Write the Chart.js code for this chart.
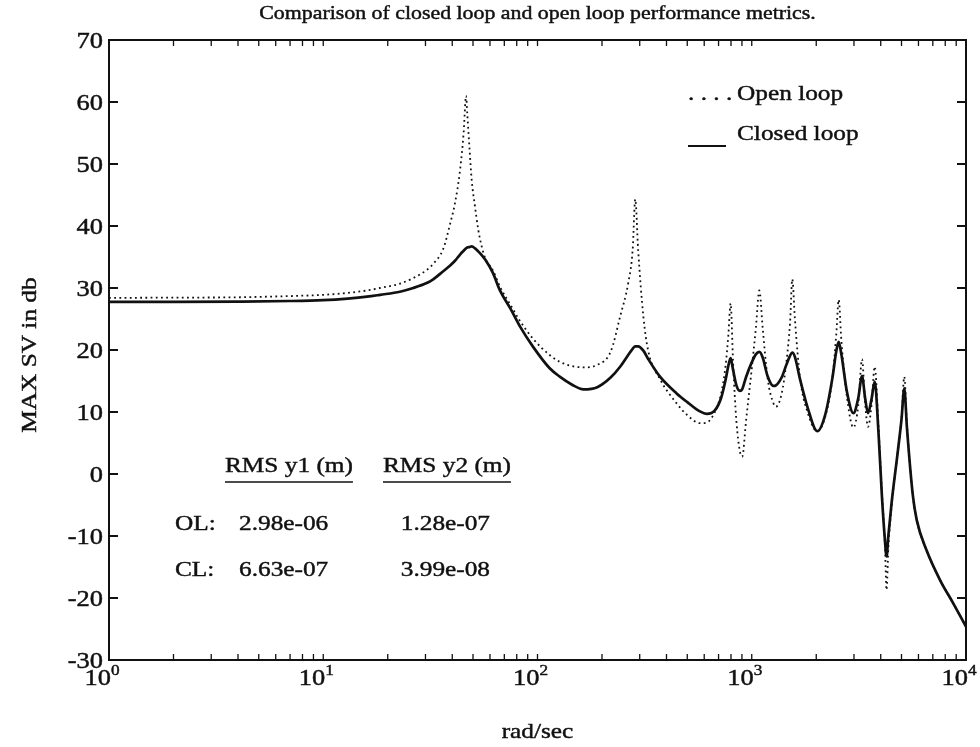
<!DOCTYPE html>
<html lang="en">
<head>
<meta charset="UTF-8">
<title>Closed loop vs open loop</title>
<script src="https://cdn.jsdelivr.net/npm/chart.js@4"></script>
<style>
  body { margin: 0; background: #fff; }
</style>
</head>
<body>
<canvas id="svChart" width="980" height="747"></canvas>
<script>
// frequency grid (rad/sec) and max singular value (dB) of each loop
const freq = [1, 2, 4, 7, 10, 13, 16, 18.4, 22.8, 26.3, 30.4, 32.6, 36.3, 39, 41.2, 43.5, 45.2, 46.4, 47, 48.1,
  49.3, 51.1, 52.9, 54.9, 57, 62, 66.6, 75, 82.8, 95.4,
  114, 127, 145, 164, 190, 220, 243, 265, 278, 286, 295, 312, 328, 373, 446, 500, 573, 616, 674, 720,
  755, 778, 797, 818, 848, 881, 903, 940, 1000, 1045, 1085, 1125, 1185, 1262, 1297, 1380, 1450, 1510, 1546, 1590,
  1680, 1820, 2023, 2200, 2380, 2480, 2546, 2620, 2780, 2981, 3140, 3272, 3380, 3490, 3620, 3749, 3900, 4050, 4180, 4258,
  4340, 4500, 4800, 5000, 5152, 5300, 5650, 5886, 6545, 7566, 8733, 10000];
const openLoop = [28.4, 28.45, 28.5, 28.7, 28.9, 29.2, 29.6, 30.0, 30.7, 31.6, 32.9, 33.9, 36.3, 40.2, 43.7, 49.0, 55, 61, 58.2, 52.8,
  47.4, 43.1, 39.4, 36.7, 34.8, 32.8, 30.3, 27.2, 24.7, 21.8,
  19.2, 18.1, 17.4, 17.2, 17.6, 19.8, 25.4, 30.75, 36.1, 44.3, 36.1, 25.4, 20.0, 15.3, 11.4, 9.5, 8.2, 8.3, 10.05, 13.0,
  17.5, 22.5, 27.5, 18.0, 8.5, 3.6, 2.8, 8.5, 17.0, 23.5, 29.6, 23.5, 15.5, 11.4, 10.85, 13.0, 18.0, 24.5, 31.4, 25.0,
  15.5, 10.0, 6.9, 9.2, 15.5, 22.5, 28.1, 21.5, 12.5, 7.5, 11.0, 18.5, 11.5, 7.6, 11.0, 17.3, 8.0, -3.0, -11.0, -18.7,
  -12.0, -5.0, 3.5, 9.0, 15.7, 8.0, -3.5, -7.4, -12.3, -17.1, -20.9, -24.6];
const closedLoop = [27.75, 27.75, 27.8, 27.9, 28.05, 28.3, 28.6, 28.9, 29.4, 30.0, 30.8, 31.4, 32.7, 33.6, 34.4, 35.4, 36.0, 36.4, 36.55, 36.6,
  36.7, 36.4, 35.9, 35.3, 34.6, 32.4, 29.7, 26.6, 23.8, 20.5,
  17.05, 15.7, 14.4, 13.65, 14.0, 15.6, 17.3, 19.2, 20.2, 20.6, 20.6, 19.9, 18.6, 15.7, 13.0, 11.6, 10.1, 9.7, 10.3, 12.3,
  15.2, 17.5, 18.7, 16.8, 14.3, 13.4, 13.7, 15.6, 18.0, 19.3, 19.7, 18.8, 15.8, 14.2, 14.3, 15.6, 17.6, 19.1, 19.6, 18.9,
  15.3, 10.8, 6.9, 9.5, 15.5, 19.8, 21.3, 19.3, 13.3, 9.8, 12.2, 15.8, 12.3, 9.8, 12.0, 14.9, 7.0, -3.5, -10.5, -13.3,
  -10.0, -4.5, 3.5, 8.8, 13.8, 7.5, -3.5, -7.4, -12.3, -17.1, -20.9, -24.6];

const yTicks = [70, 60, 50, 40, 30, 20, 10, 0, -10, -20, -30];
const xDecades = [1, 10, 100, 1000, 10000];

const rmsHeaders = ['RMS y1 (m)', 'RMS y2 (m)'];
const rmsRows = ['OL:', 'CL:'];
const rmsY1 = ['2.98e-06', '6.63e-07'];
const rmsY2 = ['1.28e-07', '3.99e-08'];

const ink = '#111';
const serif = '"Liberation Serif", "Times New Roman", serif';
const stretch = 1.15; // the printed face runs wider than Times

function txt(ctx, s, x, y, size, align) {
  ctx.save();
  ctx.font = size + 'px ' + serif;
  ctx.fillStyle = ink;
  ctx.strokeStyle = ink;
  ctx.lineWidth = 0.45;
  ctx.textBaseline = 'alphabetic';
  const w = ctx.measureText(s).width * stretch;
  let left = x;
  if (align === 'center') left = x - w / 2;
  if (align === 'right') left = x - w;
  ctx.translate(left, y);
  ctx.scale(stretch, 1);
  ctx.textAlign = 'left';
  ctx.fillText(s, 0, 0);
  ctx.strokeText(s, 0, 0);
  ctx.restore();
  return w;
}

function textWidth(ctx, s, size) {
  ctx.save();
  ctx.font = size + 'px ' + serif;
  const w = ctx.measureText(s).width * stretch;
  ctx.restore();
  return w;
}

// frame, inward ticks and all the lettering
const decorations = {
  id: 'decorations',
  afterDraw(chart) {
    const ctx = chart.ctx;
    const a = chart.chartArea;
    const xs = chart.scales.x, ys = chart.scales.y;

    ctx.save();
    ctx.strokeStyle = ink;
    ctx.lineWidth = 2;
    ctx.strokeRect(a.left, a.top, a.right - a.left, a.bottom - a.top);

    // minor ticks along top and bottom
    ctx.lineWidth = 1.3;
    ctx.beginPath();
    for (let d = 0; d < xDecades.length - 1; d++) {
      for (let m = 2; m <= 10; m++) {
        const px = xs.getPixelForValue(m * xDecades[d]);
        ctx.moveTo(px, a.bottom); ctx.lineTo(px, a.bottom - 6);
        ctx.moveTo(px, a.top); ctx.lineTo(px, a.top + 6);
      }
    }
    ctx.stroke();

    // dB ticks on both sides
    ctx.lineWidth = 1.8;
    ctx.beginPath();
    yTicks.forEach(v => {
      const py = ys.getPixelForValue(v);
      ctx.moveTo(a.left, py); ctx.lineTo(a.left + 9, py);
      ctx.moveTo(a.right, py); ctx.lineTo(a.right - 9, py);
    });
    ctx.stroke();
    ctx.restore();

    yTicks.forEach(v => {
      txt(ctx, String(v), a.left - 6, ys.getPixelForValue(v) + 8, 23, 'right');
    });

    // decade labels: "10" ends at the tick, exponent follows
    xDecades.forEach((v, k) => {
      const px = xs.getPixelForValue(v);
      txt(ctx, '10', px + 2, a.bottom + 25, 23, 'right');
      txt(ctx, String(k), px + 2, a.bottom + 15, 15, 'left');
    });

    const midX = (a.left + a.right) / 2;
    txt(ctx, 'Comparison of closed loop and open loop performance metrics.', midX, 19, 19, 'center');
    txt(ctx, 'rad/sec', midX, 738, 22, 'center');

    ctx.save();
    ctx.translate(36, (a.top + a.bottom) / 2 + 5);
    ctx.rotate(-Math.PI / 2);
    txt(ctx, 'MAX SV in db', 0, 0, 22, 'center');
    ctx.restore();

    // legend
    txt(ctx, '. . . .', 688, 100, 22, 'left');
    txt(ctx, 'Open loop', 737, 100, 22, 'left');
    txt(ctx, 'Closed loop', 737, 140, 22, 'left');
    ctx.save();
    ctx.strokeStyle = ink;
    ctx.lineWidth = 2;
    ctx.beginPath();
    ctx.moveTo(688, 146); ctx.lineTo(726, 146);
    ctx.stroke();
    ctx.restore();

    // RMS table
    const colX = [225, 383];
    ctx.save();
    ctx.strokeStyle = ink;
    ctx.lineWidth = 1.6;
    rmsHeaders.forEach((h, i) => {
      const w = txt(ctx, h, colX[i], 472, 22, 'left');
      ctx.beginPath();
      ctx.moveTo(colX[i], 482); ctx.lineTo(colX[i] + w, 482);
      ctx.stroke();
    });
    ctx.restore();
    const rowY = [530, 576];
    rmsRows.forEach((r, i) => {
      txt(ctx, r, 175, rowY[i], 22, 'left');
      txt(ctx, rmsY1[i], 239, rowY[i], 22, 'left');
      txt(ctx, rmsY2[i], 490, rowY[i], 22, 'right');
    });
  }
};

const pts = vals => freq.map((f, i) => ({ x: f, y: vals[i] }));

new Chart(document.getElementById('svChart'), {
  type: 'line',
  data: {
    datasets: [
      {
        label: 'Open loop',
        data: pts(openLoop),
        borderColor: ink,
        borderWidth: 1.8,
        borderDash: [1.8, 3.4],
        pointRadius: 0,
        cubicInterpolationMode: 'monotone'
      },
      {
        label: 'Closed loop',
        data: pts(closedLoop),
        borderColor: ink,
        borderWidth: 2.7,
        pointRadius: 0,
        cubicInterpolationMode: 'monotone'
      }
    ]
  },
  options: {
    responsive: false,
    animation: false,
    layout: { padding: { left: 109, right: 14, top: 40, bottom: 87 } },
    scales: {
      x: { type: 'logarithmic', min: 1, max: 10000, display: false },
      y: { min: -30, max: 70, display: false }
    },
    plugins: { legend: { display: false }, tooltip: { enabled: false } }
  },
  plugins: [decorations]
});
</script>
</body>
</html>
